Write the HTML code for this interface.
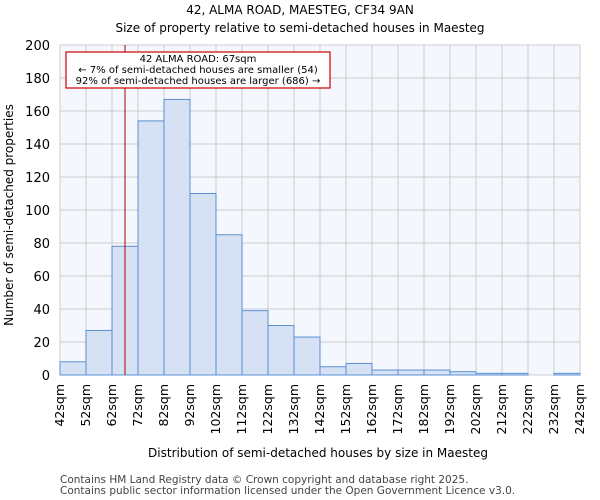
<!DOCTYPE html>
<html><head><meta charset="utf-8"><style>body{margin:0;background:#fff}svg{display:block;font-family:"DejaVu Sans","Liberation Sans",sans-serif}</style></head>
<body>
<svg width="600" height="500" viewBox="0 0 600 500" xmlns="http://www.w3.org/2000/svg">
<text x="300" y="14" text-anchor="middle" font-size="12">42, ALMA ROAD, MAESTEG, CF34 9AN</text>
<text x="300" y="32" text-anchor="middle" font-size="12">Size of property relative to semi-detached houses in Maesteg</text>
<rect x="60" y="45" width="520" height="330" fill="#f4f7fd"/>
<g id="grid"></g><g id="bars"></g><g id="axes"></g>
<text transform="translate(13,215) rotate(-90)" text-anchor="middle" font-size="12">Number of semi-detached properties</text>
<text x="318" y="457" text-anchor="middle" font-size="12">Distribution of semi-detached houses by size in Maesteg</text>
<text x="60" y="483" font-size="10.5" fill="#444">Contains HM Land Registry data © Crown copyright and database right 2025.</text>
<text x="60" y="494" font-size="10.5" fill="#444">Contains public sector information licensed under the Open Government Licence v3.0.</text>
<line id="marker" y1="45" y2="375" stroke="#a00" stroke-width="1"/>
<g>
<rect x="66" y="52" width="264" height="36" fill="#fff" stroke="#c00" stroke-width="1.2"/>
<text x="198" y="62" text-anchor="middle" font-size="10">42 ALMA ROAD: 67sqm</text>
<text x="198" y="73" text-anchor="middle" font-size="10">← 7% of semi-detached houses are smaller (54)</text>
<text x="198" y="84" text-anchor="middle" font-size="10">92% of semi-detached houses are larger (686) →</text>
</g>
</svg>
<script>
const binStarts=[42,52,62,72,82,92,102,112,122,132,142,152,162,172,182,192,202,212,222,232];
const counts=[8,27,78,154,167,110,85,39,30,23,5,7,3,3,3,2,1,1,0,1];
const xTickLabels=["42sqm","52sqm","62sqm","72sqm","82sqm","92sqm","102sqm","112sqm","122sqm","132sqm","142sqm","152sqm","162sqm","172sqm","182sqm","192sqm","202sqm","212sqm","222sqm","232sqm","242sqm"];
const yTicks=[0,20,40,60,80,100,120,140,160,180,200];
const propertySize=67;
const NS="http://www.w3.org/2000/svg";
const x=v=>60+(v-42)/200*520, y=v=>375-v/200*330;
function mk(t,a,p){const e=document.createElementNS(NS,t);for(const k in a)e.setAttribute(k,a[k]);p.appendChild(e);return e;}
const grid=document.getElementById('grid'),bars=document.getElementById('bars'),axes=document.getElementById('axes');
yTicks.forEach(t=>{const l=mk('line',{x1:60,x2:580,y1:y(t),y2:y(t),stroke:'#ccc'},grid);


const tx=mk('text',{x:50,y:y(t)+5,'text-anchor':'end','font-size':'13'},axes);tx.textContent=t;

});
xTickLabels.forEach((s,i)=>{const xv=x(42+i*10);const l=mk('line',{x1:xv,x2:xv,y1:45,y2:375,stroke:'#ccc'},grid);


const tx=mk('text',{transform:`translate(${xv+4},384) rotate(-90)`,'text-anchor':'end','font-size':'12.5'},axes);tx.textContent=s;

});
counts.forEach((c,i)=>{if(c<=0)return;const x0=x(binStarts[i]),x1=x(binStarts[i]+10);
const r=mk('rect',{x:x0,y:y(c),width:x1-x0,height:y(0)-y(c),fill:'#d6e2f3',stroke:'#5b8fd4','stroke-width':1},bars);

});
const m=document.getElementById('marker');m.setAttribute('x1',x(propertySize));m.setAttribute('x2',x(propertySize));
</script>
</body></html>
